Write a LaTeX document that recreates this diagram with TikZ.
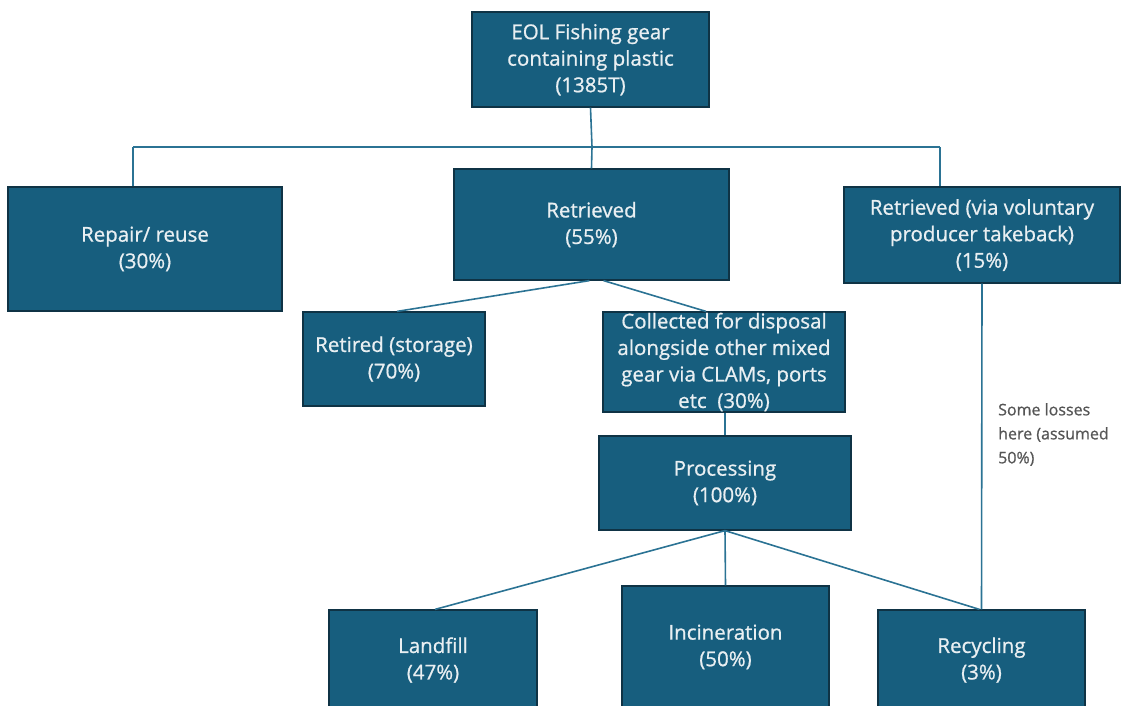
\documentclass[tikz,border=0pt]{standalone}
\usepackage{fontspec}
\setmainfont[FakeBold=0.8]{Open Sans}
\definecolor{boxfill}{HTML}{175E7E}
\definecolor{boxedge}{HTML}{0F3345}
\definecolor{boxtext}{HTML}{E9EFF2}
\definecolor{linecol}{HTML}{2B7394}
\definecolor{notecol}{HTML}{555555}
\tikzset{
  box/.style={draw=boxedge, line width=1.2pt, fill=boxfill, text=boxtext,
    align=center, inner sep=0pt, font=\fontsize{20.5}{26.5}\selectfont},
  conn/.style={draw=linecol, line width=1.6pt},
  note/.style={text=notecol, align=left, inner sep=0pt,
    font=\fontsize{16}{24}\selectfont}
}
\begin{document}
\begin{tikzpicture}[x=1pt,y=-1pt]
\useasboundingbox (0,0) rectangle (1121,705);
% nodes
\node[box, minimum width=237, minimum height=95] (top) at (590.5,59.5)
  {EOL Fishing gear\\containing plastic\\(1385T)};
\node[box, minimum width=274, minimum height=124] (repair) at (145,249)
  {Repair/ reuse\\(30\%)};
\node[box, minimum width=275, minimum height=111] (retr) at (591.5,224.5)
  {Retrieved\\(55\%)};
\node[box, minimum width=276, minimum height=96] (via) at (982,235)
  {Retrieved (via voluntary\\producer takeback)\\(15\%)};
\node[box, minimum width=182, minimum height=94] (retired) at (394,359)
  {Retired (storage)\\(70\%)};
\node[box, minimum width=242, minimum height=100] (coll) at (724,362)
  {Collected for disposal\\alongside other mixed\\gear via CLAMs, ports\\etc\ \ (30\%)};
\node[box, minimum width=252, minimum height=94] (proc) at (725,483)
  {Processing\\(100\%)};
\node[box, minimum width=208, minimum height=100] (land) at (433,660)
  {Landfill\\(47\%)};
\node[box, minimum width=207, minimum height=122] (inc) at (725.5,647)
  {Incineration\\(50\%)};
\node[box, minimum width=207, minimum height=100] (rec) at (981.5,660)
  {Recycling\\(3\%)};
\node[note, anchor=north west] (loss) at (998,403)
  {Some losses\\here (assumed\\50\%)};
% connectors
\coordinate (bus) at (592,147);
\coordinate (busL) at (133,147);
\coordinate (busR) at (940,147);
\draw[conn] (top.south) -- (bus);
\draw[conn] (busL) -- (busR);
\draw[conn] (busL) -- (busL |- repair.north);
\draw[conn] (bus) -- (retr.north);
\draw[conn] (busR) -- (busR |- via.north);
\draw[conn] ([xshift=-2]retr.south) -- ([xshift=3]retired.north);
\draw[conn] ([xshift=12]retr.south) -- ([xshift=-18]coll.north);
\draw[conn] ([xshift=1]coll.south) -- (proc.north);
\draw[conn] (proc.south) -- ([xshift=2]land.north);
\draw[conn] (proc.south) -- (inc.north);
\draw[conn] (proc.south) -- ([xshift=-2]rec.north);
\draw[conn] (via.south) -- (rec.north);
\end{tikzpicture}
\end{document}
